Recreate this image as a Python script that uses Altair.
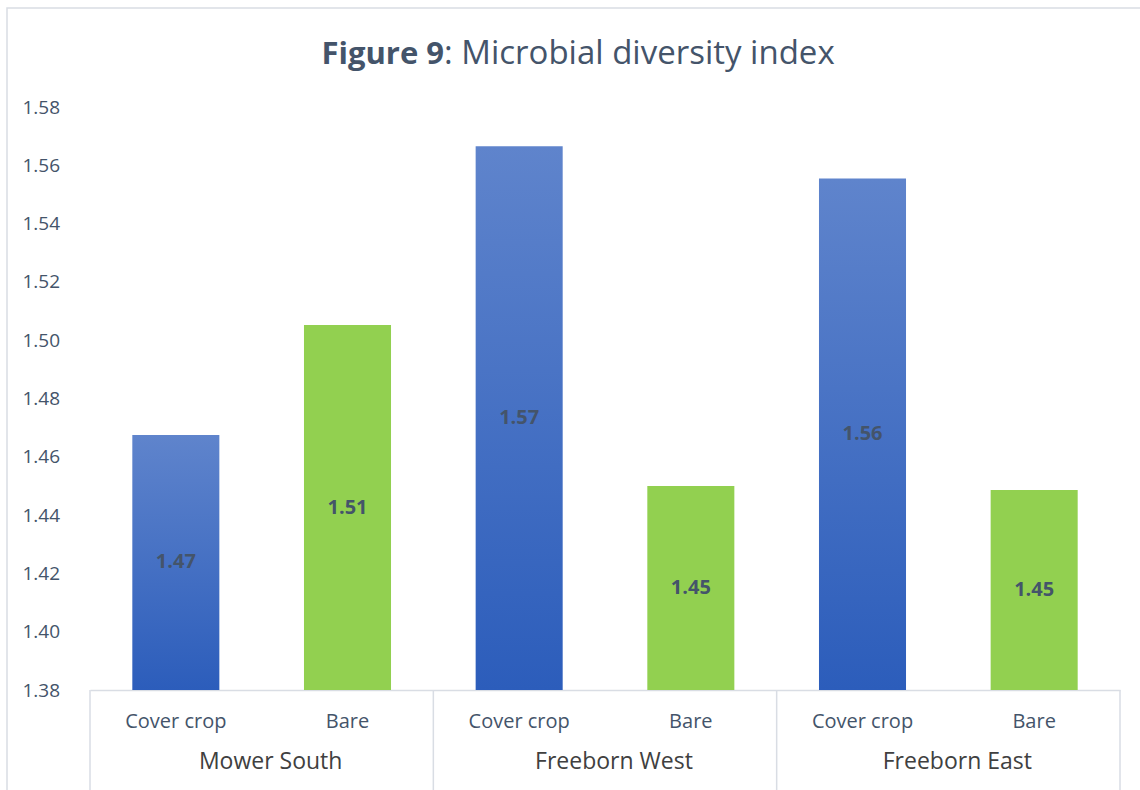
import altair as alt
import pandas as pd

# ---- data -------------------------------------------------------------
sites = ["Mower South", "Freeborn West", "Freeborn East"]
treatments = ["Cover crop", "Bare"]
cover_values = [1.4675, 1.5665, 1.5555]
bare_values = [1.5052, 1.4500, 1.4486]
y_ticks = [1.38, 1.40, 1.42, 1.44, 1.46, 1.48, 1.50, 1.52, 1.54, 1.56, 1.58]
y_domain = [1.38, 1.58]
title_bold = "Figure 9"
title_rest = ": Microbial diversity index"

rows = []
for site, cv, bv in zip(sites, cover_values, bare_values):
    rows.append({"site": site, "treatment": treatments[0], "key": f"{site}|{treatments[0]}", "value": cv})
    rows.append({"site": site, "treatment": treatments[1], "key": f"{site}|{treatments[1]}", "value": bv})
df = pd.DataFrame(rows)
order = list(df["key"])

df_groups = pd.DataFrame({"site": sites, "key": [f"{s}|{treatments[0]}" for s in sites]})
df_sep_left = pd.DataFrame({"key": [f"{s}|{treatments[0]}" for s in sites]})
df_sep_right = pd.DataFrame({"key": [f"{sites[-1]}|{treatments[1]}"]})

# ---- styling ----------------------------------------------------------
W, H = 1030, 583
FONT = "Open Sans"
TEXT = "#44546a"
DARK = "#404040"
LINE = "#d9dde4"
GREEN = "#92d050"
blue_gradient = alt.LinearGradient(
    gradient="linear",
    x1=0, x2=0, y1=0, y2=1,
    stops=[
        alt.GradientStop(color="#5f84cc", offset=0),
        alt.GradientStop(color="#2c5dbb", offset=1),
    ],
)

x_scale = alt.Scale(domain=order, paddingInner=0, paddingOuter=0)
y_scale = alt.Scale(domain=y_domain, zero=False, nice=False)

x_axis = alt.Axis(
    title=None,
    labelExpr="split(datum.label, '|')[1]",
    labelAngle=0,
    labelFont=FONT,
    labelFontSize=20,
    labelColor=TEXT,
    labelPadding=31,
    labelBaseline="middle",
    ticks=False,
    tickSize=0,
    domainColor=LINE,
    domainWidth=1.5,
    grid=False,
)
y_axis = alt.Axis(
    title=None,
    values=y_ticks,
    format=".2f",
    labelFont=FONT,
    labelFontSize=19,
    labelColor=TEXT,
    labelAlign="left",
    labelBaseline="middle",
    labelPadding=68,
    ticks=False,
    tickSize=0,
    domain=False,
    grid=False,
)


def x_enc(band_pos=0.5):
    return alt.X("key:N", sort=order, scale=x_scale, axis=x_axis, bandPosition=band_pos)


base = alt.Chart(df).encode(x=x_enc())

cover_bars = base.transform_filter(
    alt.datum.treatment == treatments[0]
).mark_bar(width={"band": 0.507}, color=blue_gradient).encode(
    y=alt.Y("value:Q", scale=y_scale, axis=y_axis),
    y2=alt.datum(y_domain[0]),
)

bare_bars = base.transform_filter(
    alt.datum.treatment == treatments[1]
).mark_bar(width={"band": 0.507}, color=GREEN).encode(
    y=alt.Y("value:Q", scale=y_scale, axis=y_axis),
    y2=alt.datum(y_domain[0]),
)

# value labels centred inside each bar
value_labels = base.transform_calculate(
    mid=f"(datum.value + {y_domain[0]}) / 2",
    label="format(datum.value, '.2f')",
).mark_text(
    font=FONT, fontSize=20, fontWeight="bold", color=TEXT, baseline="middle"
).encode(
    y=alt.Y("mid:Q", scale=y_scale, axis=y_axis),
    text="label:N",
)

# outer category labels under each pair of bars
group_labels = alt.Chart(df_groups).mark_text(
    font=FONT, fontSize=23, color=DARK, baseline="middle", dx=9
).encode(
    x=x_enc(1),
    y=alt.value(H + 72),
    text="site:N",
)

# vertical separators of the two-level category axis
sep_left = alt.Chart(df_sep_left).mark_rule(color=LINE, strokeWidth=1.5).encode(
    x=x_enc(0),
    y=alt.value(H),
    y2=alt.value(H + 120),
)
sep_right = alt.Chart(df_sep_right).mark_rule(color=LINE, strokeWidth=1.5).encode(
    x=x_enc(1),
    y=alt.value(H),
    y2=alt.value(H + 120),
)

# chart frame
frame = alt.Chart(pd.DataFrame({"frame": [0]})).mark_rect(
    filled=False, stroke=LINE, strokeWidth=1.5
).encode(
    x=alt.value(-83), x2=alt.value(W + 80),
    y=alt.value(-99), y2=alt.value(H + 140),
)

# title with a bold lead-in
title_a = alt.Chart(pd.DataFrame({"t": [title_bold]})).mark_text(
    font=FONT, fontSize=31, fontWeight="bold", color=TEXT,
    align="right", baseline="alphabetic",
).encode(x=alt.value(354), y=alt.value(-43), text="t:N")
title_b = alt.Chart(pd.DataFrame({"t": [title_rest]})).mark_text(
    font=FONT, fontSize=33, color=TEXT,
    align="left", baseline="alphabetic",
).encode(x=alt.value(354), y=alt.value(-43), text="t:N")

chart = alt.layer(
    cover_bars, bare_bars, value_labels,
    group_labels, sep_left, sep_right, frame, title_a, title_b,
).properties(
    width=W,
    height=H,
    autosize="none",
    padding={"left": 90, "top": 107, "right": 20, "bottom": 100},
    background="white",
).configure_view(stroke=None)

chart.save("out.html", embed_options={"renderer": "svg", "actions": False})
